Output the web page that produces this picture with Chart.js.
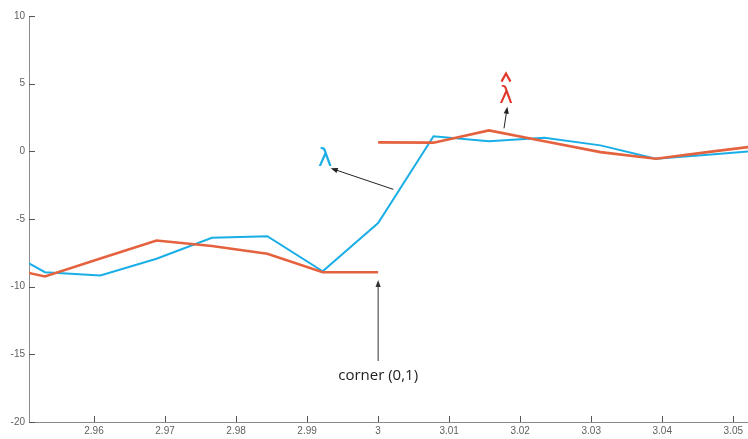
<!DOCTYPE html>
<html>
<head>
<meta charset="utf-8">
<script src="https://cdn.jsdelivr.net/npm/chart.js@4/dist/chart.umd.min.js"></script>
<style>
  html, body { margin: 0; padding: 0; background: #ffffff; }
  #wrap { position: relative; width: 748px; height: 439px; }
</style>
</head>
<body>
<div id="wrap"><canvas id="chart"></canvas></div>
<script>
// Sample positions (t), shared by both curves
const sampleT = [2.9453, 2.9531, 2.9609, 2.9688, 2.9766, 2.9844, 2.9922, 3.0,
                 3.0078, 3.0156, 3.0234, 3.0313, 3.0391, 3.0469, 3.0547];

// λ : measured signal
const lambdaValues = [-6.66, -8.93, -9.18, -7.94, -6.39, -6.27, -8.86, -5.30,
                      1.12, 0.75, 1.00, 0.44, -0.55, -0.23, 0.10];

// λ̂ : estimate, split at the corner t = 3
const hatLeftT = [2.9453, 2.9531, 2.9609, 2.9688, 2.9766, 2.9844, 2.9922, 3.0];
const hatLeftValues = [-8.34, -9.25, -7.92, -6.59, -7.00, -7.57, -8.93, -8.93];
const hatRightT = [3.0, 3.0078, 3.0156, 3.0234, 3.0313, 3.0391, 3.0469, 3.0547];
const hatRightValues = [0.66, 0.64, 1.55, 0.75, -0.06, -0.55, -0.02, 0.48];

// Axis ticks
const xTickValues = [2.96, 2.97, 2.98, 2.99, 3.0, 3.01, 3.02, 3.03, 3.04, 3.05];
const yTickValues = [-20, -15, -10, -5, 0, 5, 10];

const BLUE = '#1aaee6';
const RED = '#e4623e';
const AXIS = '#8a8a8a';
const LABEL = '#606060';

const toPoints = (xs, ys) => xs.map((x, i) => ({ x: x, y: ys[i] }));

// Inward-pointing tick marks on both axes
const innerTicks = {
  id: 'innerTicks',
  afterDraw(chart) {
    const { ctx, chartArea, scales } = chart;
    ctx.save();
    ctx.strokeStyle = '#555555';
    ctx.lineWidth = 1;
    ctx.beginPath();
    xTickValues.forEach(v => {
      const px = Math.round(scales.x.getPixelForValue(v)) + 0.5;
      ctx.moveTo(px, chartArea.bottom);
      ctx.lineTo(px, chartArea.bottom - 6);
    });
    yTickValues.forEach(v => {
      const py = Math.round(scales.y.getPixelForValue(v)) + 0.5;
      ctx.moveTo(chartArea.left, py);
      ctx.lineTo(chartArea.left + 6, py);
    });
    ctx.stroke();
    ctx.restore();
  }
};

// Text labels and arrows placed in data coordinates
const notes = {
  id: 'notes',
  afterDraw(chart) {
    const { ctx, scales } = chart;
    const X = v => scales.x.getPixelForValue(v);
    const Y = v => scales.y.getPixelForValue(v);

    function arrow(x1, y1, x2, y2, color) {
      const a = Math.atan2(y2 - y1, x2 - x1);
      const len = 7, w = 2.6;
      ctx.save();
      ctx.strokeStyle = color;
      ctx.fillStyle = color;
      ctx.lineWidth = 1;
      ctx.beginPath();
      ctx.moveTo(x1, y1);
      ctx.lineTo(x2 - Math.cos(a) * len * 0.8, y2 - Math.sin(a) * len * 0.8);
      ctx.stroke();
      ctx.beginPath();
      ctx.moveTo(x2, y2);
      ctx.lineTo(x2 - Math.cos(a) * len + Math.sin(a) * w, y2 - Math.sin(a) * len - Math.cos(a) * w);
      ctx.lineTo(x2 - Math.cos(a) * len - Math.sin(a) * w, y2 - Math.sin(a) * len + Math.cos(a) * w);
      ctx.closePath();
      ctx.fill();
      ctx.restore();
    }

    ctx.save();
    // λ label and arrow
    ctx.font = '24px "DejaVu Sans"';
    ctx.textAlign = 'center';
    ctx.textBaseline = 'alphabetic';
    ctx.fillStyle = BLUE;
    ctx.fillText('λ', X(2.99252), Y(-1.05));
    arrow(X(3.00214), Y(-2.81), X(2.99333), Y(-1.25), '#222222');

    // λ̂ label and arrow
    const hx = X(3.0180), hy = Y(3.55);
    ctx.font = '23px "DejaVu Sans"';
    ctx.fillStyle = '#e2372b';
    ctx.fillText('λ', hx, hy);
    ctx.strokeStyle = '#e2372b';
    ctx.lineWidth = 2.2;
    ctx.beginPath();
    ctx.moveTo(hx - 4.5, Y(5.15));
    ctx.lineTo(hx, Y(5.75));
    ctx.lineTo(hx + 4.5, Y(5.15));
    ctx.stroke();
    arrow(X(3.01772), Y(1.70), X(3.01819), Y(3.30), '#222222');

    // corner label and arrow
    arrow(X(3.0), Y(-15.49), X(3.0), Y(-9.51), '#333333');
    ctx.fillStyle = '#222222';
    ctx.font = '15px "Open Sans"';
    ctx.fillText('corner (0,1)', X(3.0), Y(-16.9));
    ctx.restore();
  }
};

new Chart(document.getElementById('chart'), {
  type: 'line',
  data: {
    datasets: [
      {
        label: 'λ̂ (t < 3)',
        data: toPoints(hatLeftT, hatLeftValues),
        borderColor: RED,
        borderWidth: 2.6,
        pointRadius: 0,
        tension: 0
      },
      {
        label: 'λ̂ (t ≥ 3)',
        data: toPoints(hatRightT, hatRightValues),
        borderColor: RED,
        borderWidth: 2.6,
        pointRadius: 0,
        tension: 0
      },
      {
        label: 'λ',
        data: toPoints(sampleT, lambdaValues),
        borderColor: BLUE,
        borderWidth: 2,
        pointRadius: 0,
        tension: 0
      }
    ]
  },
  options: {
    responsive: true,
    maintainAspectRatio: false,
    animation: false,
    events: [],
    layout: { padding: { top: 16, right: 0, bottom: 0, left: 0 } },
    plugins: {
      legend: { display: false },
      tooltip: { enabled: false }
    },
    scales: {
      x: {
        type: 'linear',
        min: 2.95085,
        max: 3.05207,
        afterBuildTicks(scale) { scale.ticks = xTickValues.map(v => ({ value: v })); },
        afterFit(scale) { scale.height = 17; },
        grid: { display: true, drawOnChartArea: false, drawTicks: false },
        border: { display: true, color: AXIS, width: 1 },
        ticks: {
          color: LABEL,
          padding: 3,
          maxRotation: 0,
          autoSkip: false,
          font: { family: '"Liberation Sans", Arial, sans-serif', size: 10 },
          callback: v => String(Number(v.toFixed(2)))
        }
      },
      y: {
        type: 'linear',
        min: -20,
        max: 10,
        afterBuildTicks(scale) { scale.ticks = yTickValues.map(v => ({ value: v })); },
        afterFit(scale) { scale.width = 29; },
        grid: { display: true, drawOnChartArea: false, drawTicks: false },
        border: { display: true, color: AXIS, width: 1 },
        ticks: {
          color: LABEL,
          padding: 4,
          autoSkip: false,
          font: { family: '"Liberation Sans", Arial, sans-serif', size: 10 }
        }
      }
    }
  },
  plugins: [innerTicks, notes]
});
</script>
</body>
</html>
